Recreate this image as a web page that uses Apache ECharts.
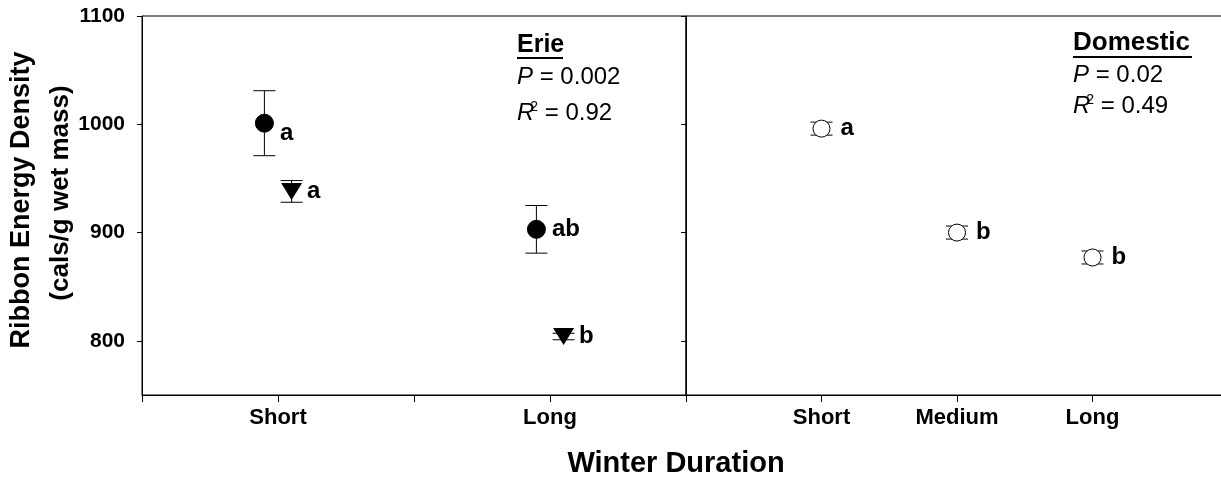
<!DOCTYPE html>
<html><head><meta charset="utf-8">
<script src="https://cdn.jsdelivr.net/npm/echarts@6/dist/echarts.min.js"></script>
<style>html,body{margin:0;padding:0;background:#fff}#c{width:1221px;height:481px}</style>
</head><body><div id="c"></div>
<script>
// ---- data ----
const erieCategories = ['Short', 'Long'];
const erieCatPos = [1, 3];
const erieCircleMean = [1001, 903];
const erieCircleSE = [30, 22];
const erieCircleLetters = ['a', 'ab'];
const erieTriMean = [938, 804];
const erieTriSE = [10, 3];
const erieTriLetters = ['a', 'b'];
const domCategories = ['Short', 'Medium', 'Long'];
const domCatPos = [1, 2, 3];
const domMean = [996, 900, 877];
const domSE = [6, 6, 6];
const domLetters = ['a', 'b', 'b'];
const yTicks = [800, 900, 1000, 1100];
const xTicks = [0, 1, 2, 3, 4];

// ---- build ----
const FONT = '"Liberation Sans", Arial, sans-serif';
const dodge = 0.1;
const chart = echarts.init(document.getElementById('c'), null, {renderer: 'canvas'});

function errSeries(xi, yi, xs, means, ses, capHalf) {
  return {
    type: 'custom', xAxisIndex: xi, yAxisIndex: yi, z: 1, silent: true,
    data: xs.map((x, i) => [x, means[i], ses[i]]),
    renderItem: function (params, api) {
      const x = api.value(0), m = api.value(1), s = api.value(2);
      const t = api.coord([x, m + s]);
      const b = api.coord([x, m - s]);
      const st = {stroke: '#000', lineWidth: 1};
      return {type: 'group', children: [
        {type: 'line', shape: {x1: t[0], y1: t[1], x2: b[0], y2: b[1]}, style: st},
        {type: 'line', shape: {x1: t[0] - capHalf, y1: t[1], x2: t[0] + capHalf, y2: t[1]}, style: st},
        {type: 'line', shape: {x1: b[0] - capHalf, y1: b[1], x2: b[0] + capHalf, y2: b[1]}, style: st}
      ]};
    }
  };
}

const labelBase = {show: true, position: 'right', color: '#000', fontFamily: FONT,
  fontWeight: 'bold', fontSize: 24, opacity: 1};

function xAxisDef(gi, names, pos) {
  return {
    type: 'value', gridIndex: gi, min: 0, max: 4, interval: 1,
    axisLine: {show: true, onZero: false, lineStyle: {color: '#000', width: 1}},
    axisTick: {show: true, inside: false, length: 7, lineStyle: {color: '#000', width: 1}, customValues: xTicks},
    axisLabel: {show: true, margin: 12, color: '#000', fontFamily: FONT, fontWeight: 'bold', fontSize: 22,
      customValues: pos,
      formatter: v => { const k = pos.indexOf(v); return k >= 0 ? names[k] : ''; }},
    splitLine: {show: false}
  };
}
function yAxisDef(gi, showLabels) {
  return {
    type: 'value', gridIndex: gi, min: 750, max: 1100,
    axisLine: {show: true, onZero: false, lineStyle: {color: '#000', width: 1}},
    axisTick: {show: true, inside: false, length: 5, lineStyle: {color: '#000'}, customValues: yTicks},
    axisLabel: {show: showLabels, margin: 17, color: '#000', fontFamily: FONT, fontWeight: 'bold', fontSize: 21,
      customValues: yTicks, formatter: v => String(v)},
    splitLine: {show: false}
  };
}

const option = {
  backgroundColor: '#fff',
  animation: false,
  grid: [
    {left: 142, top: 16, width: 544, height: 379, outerBoundsMode: 'none', containLabel: false,
      show: true, borderColor: '#000', borderWidth: 1, backgroundColor: 'transparent'},
    {left: 686, top: 16, width: 542, height: 379, outerBoundsMode: 'none', containLabel: false,
      show: true, borderColor: '#000', borderWidth: 1, backgroundColor: 'transparent'}
  ],
  xAxis: [xAxisDef(0, erieCategories, erieCatPos), xAxisDef(1, domCategories, domCatPos)],
  yAxis: [yAxisDef(0, true), yAxisDef(1, false)],
  series: [
    errSeries(0, 0, erieCatPos.map(p => p - dodge), erieCircleMean, erieCircleSE, 11),
    errSeries(0, 0, erieCatPos.map(p => p + dodge), erieTriMean, erieTriSE, 11),
    errSeries(1, 1, domCatPos, domMean, domSE, 11),
    {
      type: 'scatter', xAxisIndex: 0, yAxisIndex: 0, z: 3, silent: true,
      symbol: 'circle', symbolSize: 18,
      itemStyle: {color: '#000', borderColor: '#000', borderWidth: 1, opacity: 1},
      data: erieCatPos.map((p, i) => ({value: [p - dodge, erieCircleMean[i]],
        label: i === 0 ? {offset: [0, 10]} : {}})),
      label: Object.assign({}, labelBase, {distance: 6,
        formatter: p => erieCircleLetters[p.dataIndex]})
    },
    {
      type: 'scatter', xAxisIndex: 0, yAxisIndex: 0, z: 3, silent: true,
      symbol: 'path://M0,0 L20,0 L10,17 Z', symbolSize: [21, 17],
      itemStyle: {color: '#000', opacity: 1},
      data: erieCatPos.map((p, i) => [p + dodge, erieTriMean[i]]),
      label: Object.assign({}, labelBase, {distance: 5,
        formatter: p => erieTriLetters[p.dataIndex]})
    },
    {
      type: 'scatter', xAxisIndex: 1, yAxisIndex: 1, z: 3, silent: true,
      symbol: 'circle', symbolSize: 17,
      itemStyle: {color: '#fff', borderColor: '#000', borderWidth: 1, opacity: 1},
      data: domCatPos.map((p, i) => [p, domMean[i]]),
      label: Object.assign({}, labelBase, {distance: 10,
        formatter: p => domLetters[p.dataIndex]})
    }
  ],
  graphic: [
    {type: 'text', x: 676, y: 464, style: {text: 'Winter Duration', font: 'bold 29px ' + FONT, fill: '#000', align: 'center', verticalAlign: 'middle'}},
    {type: 'text', x: 22, y: 200, rotation: Math.PI / 2, style: {text: 'Ribbon Energy Density', font: 'bold 27px ' + FONT, fill: '#000', align: 'center', verticalAlign: 'middle'}},
    {type: 'text', x: 61, y: 193, rotation: Math.PI / 2, style: {text: '(cals/g wet mass)', font: 'bold 26px ' + FONT, fill: '#000', align: 'center', verticalAlign: 'middle'}},
    // Erie annotation
    {type: 'text', x: 517, y: 45, style: {text: 'Erie', font: 'bold 25px ' + FONT, fill: '#000', verticalAlign: 'middle'}},
    {type: 'line', shape: {x1: 517, y1: 58, x2: 563, y2: 58}, style: {stroke: '#000', lineWidth: 2}},
    {type: 'text', x: 517, y: 77, style: {text: '{i|P} = 0.002', rich: {i: {font: 'italic 24px ' + FONT}}, font: '24px ' + FONT, fill: '#000', verticalAlign: 'middle'}},
    {type: 'text', x: 517, y: 113, style: {text: '{i|R}{s|2} = 0.92', rich: {i: {font: 'italic 24px ' + FONT}, s: {font: '14px ' + FONT, verticalAlign: 'top', padding: [0, 0, 12, -4]}}, font: '24px ' + FONT, fill: '#000', verticalAlign: 'middle'}},
    // Domestic annotation
    {type: 'text', x: 1073, y: 43, style: {text: 'Domestic', font: 'bold 26px ' + FONT, fill: '#000', verticalAlign: 'middle'}},
    {type: 'line', shape: {x1: 1073, y1: 57, x2: 1192, y2: 57}, style: {stroke: '#000', lineWidth: 2}},
    {type: 'text', x: 1073, y: 75, style: {text: '{i|P} = 0.02', rich: {i: {font: 'italic 24px ' + FONT}}, font: '24px ' + FONT, fill: '#000', verticalAlign: 'middle'}},
    {type: 'text', x: 1073, y: 106, style: {text: '{i|R}{s|2} = 0.49', rich: {i: {font: 'italic 24px ' + FONT}, s: {font: '14px ' + FONT, verticalAlign: 'top', padding: [0, 0, 12, -4]}}, font: '24px ' + FONT, fill: '#000', verticalAlign: 'middle'}}
  ]
};
chart.setOption(option);
</script></body></html>
